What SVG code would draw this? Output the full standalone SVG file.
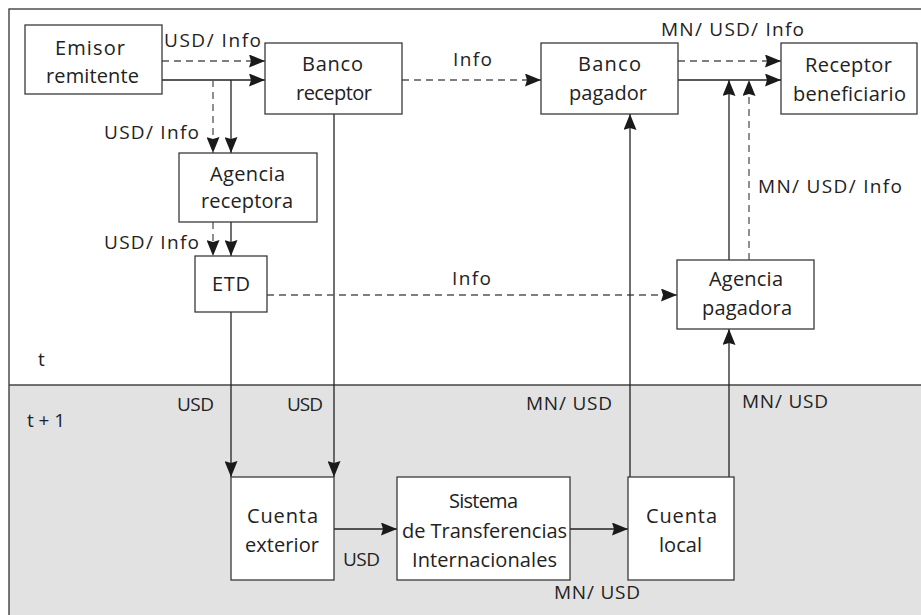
<svg xmlns="http://www.w3.org/2000/svg" width="921" height="615" viewBox="0 0 921 615">
<style>
  .box { fill: #ffffff; stroke: #3a3a3a; stroke-width: 1.3; }
  .nt { font-family: "Open Sans", "Noto Sans", sans-serif; font-size: 20px; fill: #222; }
  .lb { font-family: "Open Sans", "Noto Sans", sans-serif; font-size: 19px; fill: #222; }
  .solid { fill: none; stroke: #222; stroke-width: 1.3; }
  .dash { fill: none; stroke: #555; stroke-width: 1.3; stroke-dasharray: 7 5; }
  .arr { marker-end: url(#ah); }
</style>
<defs>
  <marker id="ah" markerUnits="userSpaceOnUse" markerWidth="16" markerHeight="13" viewBox="0 0 16 13" refX="16" refY="6.5" orient="auto">
    <path d="M0,0 L16,6.5 L0,13 L2,6.5 z" fill="#1a1a1a"/>
  </marker>
</defs>

<!-- background / frame -->
<rect x="0" y="0" width="921" height="615" fill="#ffffff"/>
<rect x="9" y="385" width="920" height="240" fill="#e2e2e2"/>
<rect x="9" y="9" width="930" height="620" fill="none" stroke="#333" stroke-width="1.3"/>
<line x1="9" y1="385" x2="921" y2="385" stroke="#444" stroke-width="1.3"/>
<text class="lb" x="38" y="366">t</text>
<text class="lb" x="27" y="427" textLength="38" lengthAdjust="spacing">t + 1</text>

<g id="connectors">
  <!-- Emisor -> Banco receptor -->
  <path class="dash arr" d="M162,61 H265"/>
  <path class="solid arr" d="M162,80 H265"/>
  <!-- Emisor -> Agencia receptora -->
  <path class="dash arr" d="M213,80 V153"/>
  <path class="solid arr" d="M231,80 V153"/>
  <!-- Agencia receptora -> ETD -->
  <path class="dash arr" d="M213,222 V256"/>
  <path class="solid arr" d="M231,222 V256"/>
  <!-- ETD -> Cuenta exterior -->
  <path class="solid arr" d="M231,312 V477"/>
  <!-- Banco receptor -> Cuenta exterior -->
  <path class="solid arr" d="M334,114 V477"/>
  <!-- Banco receptor -> Banco pagador -->
  <path class="dash arr" d="M402,80 H541"/>
  <!-- ETD -> Agencia pagadora -->
  <path class="dash arr" d="M267,295 H677"/>
  <!-- Cuenta exterior -> Sistema -->
  <path class="solid arr" d="M334,529 H397"/>
  <!-- Sistema -> Cuenta local -->
  <path class="solid arr" d="M570,529 H628"/>
  <!-- Cuenta local -> Banco pagador -->
  <path class="solid arr" d="M630,477 V114"/>
  <!-- Cuenta local -> Agencia pagadora -->
  <path class="solid arr" d="M729,477 V329"/>
  <!-- Agencia pagadora -> Receptor line -->
  <path class="solid arr" d="M729,260 V80"/>
  <path class="dash arr" d="M749,260 V80"/>
  <!-- Banco pagador -> Receptor -->
  <path class="dash arr" d="M678,61 H781"/>
  <path class="solid arr" d="M678,80 H781"/>

  <!-- labels -->
  <text class="lb" x="164" y="47" textLength="97" lengthAdjust="spacing">USD/ Info</text>
  <text class="lb" x="104" y="139" textLength="95" lengthAdjust="spacing">USD/ Info</text>
  <text class="lb" x="104" y="249" textLength="95" lengthAdjust="spacing">USD/ Info</text>
  <text class="lb" x="453" y="66" textLength="39" lengthAdjust="spacing">Info</text>
  <text class="lb" x="452" y="285" textLength="39" lengthAdjust="spacing">Info</text>
  <text class="lb" x="661" y="36" textLength="143" lengthAdjust="spacing">MN/ USD/ Info</text>
  <text class="lb" x="758" y="193" textLength="144" lengthAdjust="spacing">MN/ USD/ Info</text>
  <text class="lb" x="177" y="411" textLength="37" lengthAdjust="spacing">USD</text>
  <text class="lb" x="287" y="411" textLength="36" lengthAdjust="spacing">USD</text>
  <text class="lb" x="343" y="566" textLength="37" lengthAdjust="spacing">USD</text>
  <text class="lb" x="526" y="410" textLength="86" lengthAdjust="spacing">MN/ USD</text>
  <text class="lb" x="742" y="408" textLength="86" lengthAdjust="spacing">MN/ USD</text>
  <text class="lb" x="554" y="599" textLength="86" lengthAdjust="spacing">MN/ USD</text>
</g>

<g id="emisor">
  <rect class="box" x="25" y="25" width="137" height="69"/>
  <text class="nt" x="55" y="55" textLength="70" lengthAdjust="spacing">Emisor</text>
  <text class="nt" x="46" y="83" textLength="93" lengthAdjust="spacing">remitente</text>
</g>
<g id="banco-receptor">
  <rect class="box" x="265" y="43" width="137" height="71"/>
  <text class="nt" x="302" y="71" textLength="61" lengthAdjust="spacing">Banco</text>
  <text class="nt" x="296" y="100" textLength="76" lengthAdjust="spacing">receptor</text>
</g>
<g id="banco-pagador">
  <rect class="box" x="541" y="43" width="137" height="71"/>
  <text class="nt" x="578" y="71" textLength="63" lengthAdjust="spacing">Banco</text>
  <text class="nt" x="569" y="100" textLength="78" lengthAdjust="spacing">pagador</text>
</g>
<g id="receptor-beneficiario">
  <rect class="box" x="781" y="43" width="136" height="71"/>
  <text class="nt" x="805" y="72" textLength="87" lengthAdjust="spacing">Receptor</text>
  <text class="nt" x="793" y="101" textLength="113" lengthAdjust="spacing">beneficiario</text>
</g>
<g id="agencia-receptora">
  <rect class="box" x="179" y="153" width="138" height="69"/>
  <text class="nt" x="210" y="181" textLength="75" lengthAdjust="spacing">Agencia</text>
  <text class="nt" x="201" y="208" textLength="92" lengthAdjust="spacing">receptora</text>
</g>
<g id="etd">
  <rect class="box" x="195" y="256" width="72" height="56"/>
  <text class="nt" x="212" y="291" textLength="38" lengthAdjust="spacing">ETD</text>
</g>
<g id="agencia-pagadora">
  <rect class="box" x="677" y="260" width="137" height="69"/>
  <text class="nt" x="709" y="286" textLength="74" lengthAdjust="spacing">Agencia</text>
  <text class="nt" x="702" y="315" textLength="90" lengthAdjust="spacing">pagadora</text>
</g>
<g id="cuenta-exterior">
  <rect class="box" x="231" y="477" width="103" height="103"/>
  <text class="nt" x="247" y="523" textLength="71" lengthAdjust="spacing">Cuenta</text>
  <text class="nt" x="245" y="552" textLength="74" lengthAdjust="spacing">exterior</text>
</g>
<g id="sistema">
  <rect class="box" x="397" y="477" width="173" height="103"/>
  <text class="nt" x="449" y="508" textLength="69" lengthAdjust="spacing">Sistema</text>
  <text class="nt" x="402" y="538" textLength="165" lengthAdjust="spacing">de Transferencias</text>
  <text class="nt" x="412" y="567" textLength="145" lengthAdjust="spacing">Internacionales</text>
</g>
<g id="cuenta-local">
  <rect class="box" x="628" y="477" width="106" height="103"/>
  <text class="nt" x="646" y="523" textLength="71" lengthAdjust="spacing">Cuenta</text>
  <text class="nt" x="659" y="552" textLength="43" lengthAdjust="spacing">local</text>
</g>
</svg>
